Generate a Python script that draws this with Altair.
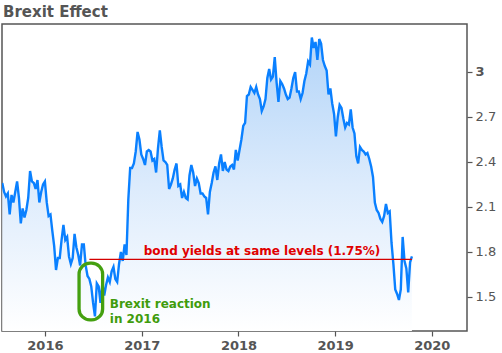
import altair as alt
import pandas as pd

# Weekly 10-year yield readings (Fridays), starting 2015-07-24
yields_2015 = [2.26, 2.20,
               2.17, 2.19, 2.05, 2.18,
               2.13, 2.20, 2.27, 2.16,
               1.99, 2.09, 2.03, 2.08, 2.16,
               2.34, 2.27, 2.26, 2.22,
               2.28, 2.13, 2.20, 2.25]
yields_2016 = [2.27, 2.13, 2.04, 2.05, 1.94,
               1.84, 1.68, 1.76, 1.76,
               1.88, 1.98, 1.88, 1.90,
               1.77, 1.72, 1.76, 1.92, 1.83,
               1.78, 1.71, 1.85, 1.85,
               1.71, 1.64, 1.62, 1.57,
               1.46, 1.37, 1.59, 1.57, 1.46,
               1.59, 1.51, 1.58, 1.63,
               1.60, 1.67, 1.70, 1.62, 1.60,
               1.72, 1.80, 1.74, 1.85,
               1.78, 2.15, 2.36, 2.36,
               2.39, 2.47, 2.60, 2.55, 2.45]
yields_2017 = [2.42, 2.38, 2.47, 2.48,
               2.47, 2.41, 2.42, 2.33,
               2.49, 2.61, 2.50, 2.41, 2.40,
               2.38, 2.22, 2.25, 2.29,
               2.35, 2.39, 2.24, 2.25,
               2.16, 2.20, 2.16, 2.15, 2.31,
               2.38, 2.33, 2.24, 2.29,
               2.26, 2.19, 2.19, 2.17,
               2.16, 2.05, 2.20, 2.26, 2.33,
               2.37, 2.28, 2.39, 2.45,
               2.34, 2.40, 2.35, 2.34,
               2.37, 2.38, 2.35, 2.48, 2.41]
yields_2018 = [2.48, 2.55, 2.64, 2.66,
               2.84, 2.85, 2.90, 2.88,
               2.86, 2.90, 2.85, 2.82, 2.74,
               2.77, 2.82, 2.96, 3.02,
               2.95, 2.97, 3.10, 2.93,
               2.80, 2.94, 2.92, 2.89, 2.85,
               2.82, 2.83, 2.89, 2.96,
               3.00, 2.87, 2.87, 2.82, 2.86,
               2.94, 2.99, 3.07, 3.05,
               3.23, 3.16, 3.20, 3.08,
               3.22, 3.19, 3.08, 3.04, 3.01,
               2.85, 2.89, 2.79, 2.72]
yields_2019 = [2.57, 2.70, 2.78, 2.76,
               2.69, 2.63, 2.66, 2.65,
               2.75, 2.63, 2.59, 2.44, 2.39,
               2.50, 2.48, 2.47, 2.45,
               2.46, 2.42, 2.37, 2.30, 2.13,
               2.08, 2.06, 2.02, 2.00,
               2.04, 2.12, 2.06, 2.07,
               1.86, 1.72, 1.55, 1.52, 1.48,
               1.55, 1.90, 1.74, 1.69,
               1.53, 1.73, 1.77]
values = yields_2015 + yields_2016 + yields_2017 + yields_2018 + yields_2019
dates = pd.date_range("2015-07-24", periods=len(values), freq="7D")
df = pd.DataFrame({"date": dates, "yield": values})

y_min, y_max = 1.273, 3.32
y_ticks = [1.5, 1.8, 2.1, 2.4, 2.7, 3.0]
years = [2016, 2017, 2018, 2019, 2020]

rule_df = pd.DataFrame({"start": ["2016-06-17"], "end": ["2019-10-18"], "level": [1.75]})
red_df = pd.DataFrame({"date": ["2018-03-31"], "val": [1.782],
                       "label": ["bond yields at same levels (1.75%)"]})
green_df = pd.DataFrame({"date": ["2016-09-02", "2016-09-02"], "val": [1.429, 1.329],
                         "label": ["Brexit reaction", "in 2016"]})
box_df = pd.DataFrame({"start": ["2016-05-09"], "end": ["2016-08-06"],
                       "low": [1.347], "high": [1.725]})

xscale = alt.Scale(domain=[alt.DateTime(year=2015, month=7, date=23),
                           alt.DateTime(year=2020, month=5, date=13)])
yscale = alt.Scale(domain=[y_min, y_max], zero=False, nice=False)

base = alt.Chart(df).encode(
    x=alt.X("date:T", scale=xscale, title=None,
            axis=alt.Axis(values=[alt.DateTime(year=y, month=1, date=1) for y in years],
                          format="%Y", labelFontWeight="bold")),
    y=alt.Y("yield:Q", scale=yscale, title=None,
            axis=alt.Axis(orient="right", values=y_ticks, format="~g",
                          labelFontWeight=alt.condition("datum.value == 3", alt.value("bold"), alt.value("normal")))),
)

area = base.mark_area(
    clip=True,
    color=alt.Gradient(gradient="linear",
                       stops=[alt.GradientStop(color="#b2d4f8", offset=0),
                              alt.GradientStop(color="#dcebfc", offset=0.5),
                              alt.GradientStop(color="#ffffff", offset=1)],
                       x1=1, x2=1, y1=0, y2=1),
).encode(y2=alt.datum(y_min))
line = base.mark_line(color="#0a80ff", strokeWidth=2.4, clip=True)

rule = alt.Chart(rule_df).mark_rule(color="#d40000", strokeWidth=1.3).encode(
    x=alt.X("start:T", scale=xscale), x2="end:T", y=alt.Y("level:Q", scale=yscale))

red_text = alt.Chart(red_df).mark_text(
    align="center", baseline="alphabetic", font="DejaVu Sans", fontWeight="bold",
    fontSize=12, color="#e00000").encode(
    x=alt.X("date:T", scale=xscale), y=alt.Y("val:Q", scale=yscale), text="label:N")

green_text = alt.Chart(green_df).mark_text(
    align="left", baseline="alphabetic", font="DejaVu Sans", fontWeight="bold",
    fontSize=12, color="#3f9c0c").encode(
    x=alt.X("date:T", scale=xscale), y=alt.Y("val:Q", scale=yscale), text="label:N")

box = alt.Chart(box_df).mark_rect(
    fillOpacity=0, stroke="#44a010", strokeWidth=3.3, cornerRadius=11).encode(
    x=alt.X("start:T", scale=xscale), x2="end:T",
    y=alt.Y("low:Q", scale=yscale), y2="high:Q")

chart = alt.layer(area, line, rule, red_text, box, green_text).properties(
    width=465, height=307,
    title=alt.TitleParams("Brexit Effect", anchor="start", fontSize=15, font="DejaVu Sans",
                          fontWeight="bold", color="#555555", offset=4, dx=1),
    autosize=alt.AutoSizeParams(type="none"),
    padding={"left": 2, "top": 24, "right": 35, "bottom": 22},
).configure_view(
    stroke="#555555", strokeWidth=1.5
).configure_axis(
    domain=False, grid=False, tickColor="#555555", tickSize=5, tickWidth=1.2,
    labelColor="#555555", labelFont="DejaVu Sans", labelFontSize=13, labelPadding=3,
).configure_axisX(labelFontWeight="bold")

chart.save("out.html", embed_options={"renderer": "svg", "actions": False})
